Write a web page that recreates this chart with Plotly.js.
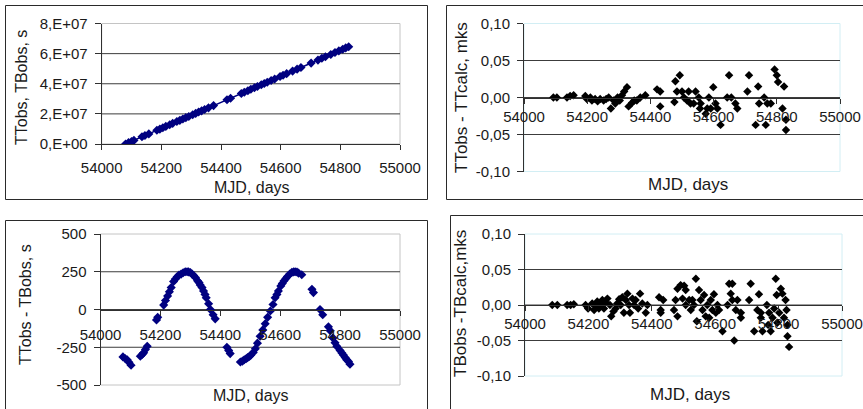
<!DOCTYPE html>
<html>
<head>
<meta charset="utf-8">
<script src="https://cdn.plot.ly/plotly-3.0.1.min.js"></script>
<style>html,body{margin:0;padding:0;background:#fff;}#chart{width:863px;height:409px;}</style>
</head>
<body>
<div id="chart"></div>
<script>
// ---------- DATA ----------
const xTickVals = [54000, 54200, 54400, 54600, 54800, 55000];
const xTickText = ["54000", "54200", "54400", "54600", "54800", "55000"];

// Panel 1: TTobs, TBobs (s) vs MJD
const p1MJD = [54080,54090,54100,54108,54135,54145,54158,54185,54195,54205,54215,54228,54238,54252,54262,54272,54282,54292,54305,54315,54325,54335,54345,54358,54375,54420,54432,54468,54478,54490,54500,54512,54522,54535,54545,54555,54568,54580,54598,54608,54620,54640,54655,54668,54702,54725,54738,54750,54768,54782,54795,54808,54818,54828];
const p1Val = [0.00e7,0.09e7,0.17e7,0.24e7,0.48e7,0.56e7,0.67e7,0.91e7,0.99e7,1.08e7,1.17e7,1.28e7,1.37e7,1.49e7,1.57e7,1.66e7,1.75e7,1.83e7,1.94e7,2.03e7,2.12e7,2.20e7,2.29e7,2.40e7,2.55e7,2.94e7,3.04e7,3.35e7,3.44e7,3.54e7,3.63e7,3.73e7,3.82e7,3.93e7,4.02e7,4.10e7,4.22e7,4.32e7,4.48e7,4.56e7,4.67e7,4.84e7,4.97e7,5.08e7,5.37e7,5.57e7,5.69e7,5.79e7,5.94e7,6.07e7,6.18e7,6.29e7,6.38e7,6.46e7];
const p1YTickVals = [0, 2e7, 4e7, 6e7, 8e7];
const p1YTickText = ["0,E+00", "2,E+07", "4,E+07", "6,E+07", "8,E+07"];
const p1Grid = [2e7, 4e7, 6e7];

// Panel 2: TTobs - TTcalc (mks)
const p2MJD = [54093,54104,54136,54146,54157,54194,54199,54210,54215,54225,54233,54241,54252,54260,54268,54275,54284,54289,54296,54303,54310,54317,54326,54331,54342,54349,54357,54368,54384,54421,54431,54431,54476,54479,54493,54484,54500,54506,54516,54521,54527,54537,54543,54553,54559,54557,54575,54580,54585,54591,54599,54606,54612,54622,54643,54649,54656,54669,54675,54707,54712,54733,54741,54744,54760,54765,54770,54781,54793,54800,54804,54823,54818,54829,54829];
const p2Val = [0,0,0,0.002,0.003,0.002,-0.002,0,-0.004,-0.002,-0.005,-0.002,-0.004,-0.002,0,-0.015,-0.004,-0.008,0,-0.004,0.003,0.008,0.014,-0.012,-0.007,-0.004,-0.004,0,0.003,0.011,0.008,-0.012,-0.006,0.022,0.030,0.008,0.008,0,-0.004,0.008,-0.008,-0.008,0.008,0,-0.008,-0.015,-0.022,-0.015,0,-0.015,0.014,-0.008,-0.015,-0.037,0,0.030,0,-0.008,-0.015,0.008,0.030,-0.037,0.015,-0.008,0,-0.037,-0.008,-0.008,0.038,0.030,0.021,0.015,-0.015,-0.030,-0.044];
const resTickVals = [-0.10, -0.05, 0, 0.05, 0.10];
const resTickText = ["-0,10", "-0,05", "0,00", "0,05", "0,10"];
const resGrid = [-0.05, 0, 0.05];

// Panel 3: TTobs - TBobs (s)
const p3MJD = [54075,54082,54089,54095,54102,54133,54139,54144,54150,54156,54187,54191,54211,54217,54224,54230,54236,54244,54250,54256,54262,54269,54276,54283,54289,54294,54300,54306,54311,54317,54324,54329,54333,54339,54344,54349,54353,54361,54367,54376,54383,54422,54428,54433,54467,54474,54480,54486,54491,54497,54502,54510,54517,54524,54533,54542,54550,54558,54567,54576,54583,54589,54594,54602,54607,54613,54619,54624,54632,54639,54645,54650,54656,54661,54672,54706,54711,54733,54742,54761,54767,54776,54783,54789,54800,54806,54811,54817,54822,54828,54833];
const p3Val = [-314,-325,-333,-350,-369,-310,-298,-287,-265,-243,-69,-52,29,60,89,118,145,185,202,217,228,234,243,250,250,249,245,234,225,212,190,178,163,145,123,100,78,38,0,-35,-62,-250,-271,-292,-348,-342,-333,-326,-319,-311,-302,-285,-260,-223,-177,-135,-94,-52,-10,33,78,100,123,156,173,190,205,219,235,246,249,250,248,241,230,134,112,0,-35,-115,-140,-188,-220,-244,-271,-288,-302,-318,-333,-345,-362];
const p3YTickVals = [-500, -250, 0, 250, 500];
const p3YTickText = ["-500", "-250", "0", "250", "500"];
const p3Grid = [-250, 0, 250];

// Panel 4: TBobs - TBcalc (mks)
const p4MJD = [54086,54102,54133,54144,54154,54191,54199,54212,54218,54223,54228,54233,54239,54244,54249,54254,54260,54268,54272,54279,54286,54291,54297,54302,54307,54312,54318,54323,54328,54331,54339,54344,54349,54357,54363,54370,54381,54386,54423,54428,54428,54436,54470,54475,54481,54481,54491,54497,54502,54507,54507,54518,54523,54528,54533,54539,54542,54549,54554,54560,54565,54570,54575,54581,54586,54591,54596,54602,54607,54612,54623,54639,54644,54649,54654,54654,54660,54665,54670,54681,54681,54707,54712,54723,54733,54738,54744,54744,54749,54763,54767,54770,54775,54781,54786,54791,54794,54796,54802,54807,54812,54817,54822,54825,54828,54828,54833];
const p4Val = [0,0,0,0,0.001,0,-0.005,0.002,-0.007,-0.002,0.005,-0.005,0.001,0.007,-0.005,0.004,0.009,0,-0.016,-0.009,-0.005,0.002,0.008,0,0.011,-0.011,0.007,0.016,0,-0.011,0.009,0,0.007,-0.005,0.016,0.002,-0.011,0,0.011,-0.007,-0.011,0.007,-0.007,0.007,-0.016,0.023,0.028,0.009,0.027,0.021,0,0.007,-0.007,0.007,0,0.037,-0.023,0.021,0.007,-0.007,0.014,-0.016,0,-0.018,0.007,-0.007,0.015,-0.011,0,-0.007,-0.037,0,0.030,0.016,0.007,0.030,-0.050,-0.007,0.007,-0.011,-0.018,0.007,0.030,-0.037,-0.007,0.015,-0.018,-0.011,-0.037,0,-0.028,-0.011,-0.037,-0.018,-0.005,0.037,0.014,-0.025,-0.011,0.023,0.016,-0.018,0.007,-0.007,-0.028,-0.044,-0.059];

// ---------- LAYOUT HELPERS ----------
const W = 863, H = 409;
const fx = px => px / W;
const fy = py => 1 - py / H;
const FONT = "Liberation Sans, Arial, sans-serif";
const tickFont = {family: FONT, size: 15, color: "#1a1a1a"};
const AX = "#303030";
const GRID = "#3c3c3c";

const xRange = [54000, 55000];
const p1Range = [0, 8e7];
const resRange = [-0.1, 0.1];
const p3Range = [-500, 500];

const dom = {
  x1: [fx(101.7), fx(400)], y1: [fy(144), fy(23.5)],
  x2: [fx(524), fx(840)],   y2: [fy(171.5), fy(23.5)],
  x3: [fx(100.5), fx(400)], y3: [fy(385), fy(234)],
  x4: [fx(525), fx(842)],   y4: [fy(376), fy(234)]
};
const zeroPos = (d, r) => d[0] + (0 - r[0]) / (r[1] - r[0]) * (d[1] - d[0]);

function xAxis(domain, anchor, position, standoff) {
  const a = {
    domain: domain, range: xRange, tickmode: "array", tickvals: xTickVals, ticktext: xTickText,
    showgrid: false, zeroline: false, showline: true, linecolor: AX, linewidth: 1,
    ticks: "outside", ticklen: 5, tickcolor: AX, tickfont: tickFont, ticklabelstandoff: standoff, fixedrange: true
  };
  if (position !== null) { a.anchor = "free"; a.position = position; } else { a.anchor = anchor; }
  return a;
}
function yAxis(domain, anchor, range, tv, tt) {
  return {
    domain: domain, anchor: anchor, range: range, tickmode: "array", tickvals: tv, ticktext: tt,
    showgrid: false, zeroline: false, showline: true, linecolor: AX, linewidth: 1,
    ticks: "outside", ticklen: 6, tickcolor: AX, tickfont: tickFont, ticklabelstandoff: 4, fixedrange: true
  };
}

// ---------- TRACES ----------
const navy = "#000080";
const traces = [
  {x: p1MJD, y: p1Val, xaxis: "x", yaxis: "y", type: "scatter", mode: "lines+markers",
   line: {color: navy, width: 1.5}, marker: {symbol: "diamond", size: 7, color: navy}},
  {x: p2MJD, y: p2Val, xaxis: "x2", yaxis: "y2", type: "scatter", mode: "markers",
   marker: {symbol: "diamond", size: 6.5, color: "#000000"}},
  {x: p3MJD, y: p3Val, xaxis: "x3", yaxis: "y3", type: "scatter", mode: "markers",
   marker: {symbol: "diamond", size: 7, color: navy}},
  {x: p4MJD, y: p4Val, xaxis: "x4", yaxis: "y4", type: "scatter", mode: "markers",
   marker: {symbol: "diamond", size: 6.5, color: "#000000"}}
];

// ---------- SHAPES ----------
const shapes = [];
function gridShapes(xa, ya, vals) {
  vals.forEach(v => shapes.push({type: "line", layer: "below", xref: xa + " domain", yref: ya,
    x0: 0, x1: 1, y0: v, y1: v, line: {color: GRID, width: 1}}));
}
function plotBorder(xa, ya, color) {
  shapes.push({type: "rect", layer: "below", xref: xa + " domain", yref: ya + " domain",
    x0: 0, x1: 1, y0: 0, y1: 1, line: {color: color, width: 1}});
}
plotBorder("x", "y", "#c4c4c4");
plotBorder("x2", "y2", "#d2eef4");
plotBorder("x3", "y3", "#c4c4c4");
plotBorder("x4", "y4", "#d2eef4");
gridShapes("x", "y", p1Grid);
gridShapes("x2", "y2", resGrid);
gridShapes("x3", "y3", p3Grid);
gridShapes("x4", "y4", resGrid);
// chart frames
const frame = {color: "#2a2a2a", width: 1};
shapes.push({type: "rect", xref: "paper", yref: "paper", x0: fx(5.5), x1: fx(427.5), y0: fy(199.5), y1: fy(5.5), line: frame});
shapes.push({type: "rect", xref: "paper", yref: "paper", x0: fx(446.5), x1: 1.02, y0: fy(199.5), y1: fy(5.5), line: frame});
shapes.push({type: "rect", xref: "paper", yref: "paper", x0: fx(5.5), x1: fx(427.5), y0: -0.05, y1: fy(220.5), line: frame});
shapes.push({type: "rect", xref: "paper", yref: "paper", x0: fx(450.5), x1: 1.02, y0: -0.05, y1: fy(215.5), line: frame});

// ---------- ANNOTATIONS (axis titles) ----------
const titleFont = {family: FONT, size: 16, color: "#1a1a1a"};
const titleFont2 = {family: FONT, size: 17, color: "#1a1a1a"};
function ann(text, px, py, angle, font) {
  return {text: text, xref: "paper", yref: "paper", x: fx(px), y: fy(py), xanchor: "center", yanchor: "middle",
    showarrow: false, textangle: angle, font: font};
}
const annotations = [
  ann("MJD, days", 252, 187, 0, titleFont),
  ann("TTobs, TBobs, s", 21, 88, -90, titleFont),
  ann("MJD, days", 688, 184, 0, titleFont2),
  ann("TTobs - TTcalc, mks", 461, 98, -90, titleFont2),
  ann("MJD, days", 251, 395, 0, titleFont),
  ann("TTobs - TBobs, s", 25, 305, -90, titleFont),
  ann("MJD, days", 690, 394, 0, titleFont2),
  ann("TBobs -TBcalc,mks", 460, 303, -90, titleFont2)
];

const layout = {
  width: W, height: H, margin: {l: 0, r: 0, t: 0, b: 0},
  paper_bgcolor: "#ffffff", plot_bgcolor: "rgba(0,0,0,0)", showlegend: false,
  font: {family: FONT},
  xaxis: xAxis(dom.x1, "y", null, 5),
  yaxis: yAxis(dom.y1, "x", p1Range, p1YTickVals, p1YTickText),
  xaxis2: xAxis(dom.x2, null, zeroPos(dom.y2, resRange), 0),
  yaxis2: yAxis(dom.y2, "x2", resRange, resTickVals, resTickText),
  xaxis3: xAxis(dom.x3, null, zeroPos(dom.y3, p3Range), 6),
  yaxis3: yAxis(dom.y3, "x3", p3Range, p3YTickVals, p3YTickText),
  xaxis4: xAxis(dom.x4, null, zeroPos(dom.y4, resRange), 0),
  yaxis4: yAxis(dom.y4, "x4", resRange, resTickVals, resTickText),
  shapes: shapes, annotations: annotations
};

Plotly.newPlot("chart", traces, layout, {staticPlot: true, displayModeBar: false});
</script>
</body>
</html>
